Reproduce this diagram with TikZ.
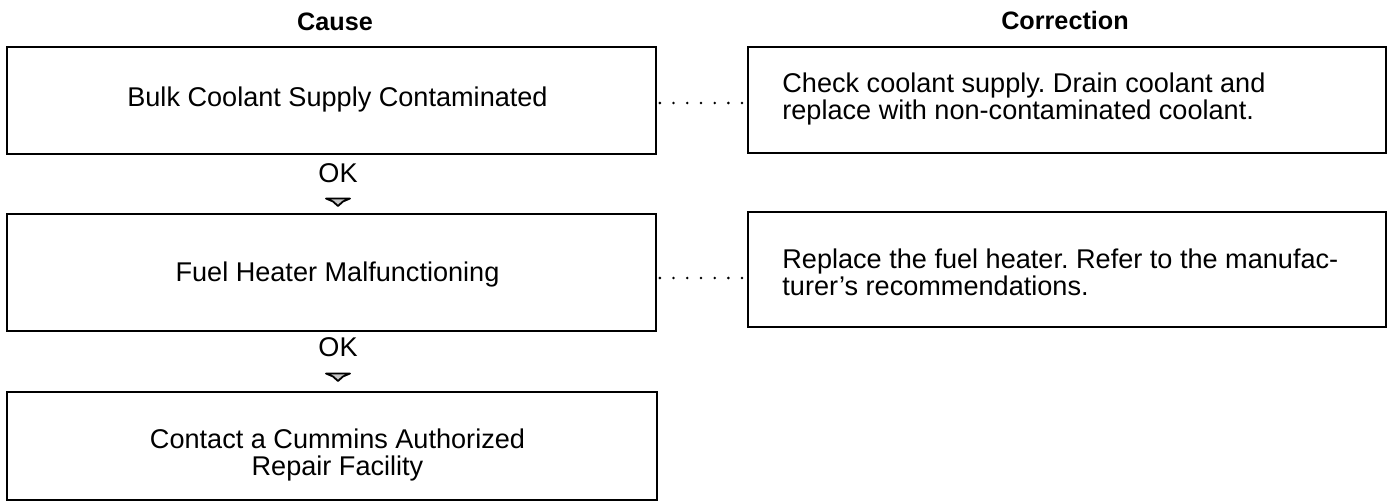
\documentclass[tikz,border=0pt]{standalone}
\usepackage{fontspec}
\setmainfont{Liberation Sans}
\frenchspacing
\begin{document}
\begin{tikzpicture}[x=0.5pt,y=-0.5pt,
  box/.style={draw, line width=0.85pt, inner sep=0pt},
  body/.style={font=\fontsize{13.55pt}{13.25pt}\selectfont, inner sep=0pt},
  title/.style={font=\fontsize{12.6pt}{14pt}\selectfont\bfseries, inner sep=0pt, anchor=base},
  dotline/.style={line width=1.4pt, line cap=round, dash pattern=on 0pt off 6.85pt},
  okarrow/.pic={\filldraw[fill=gray!45, draw=black, line width=0.9pt, line join=round]
     (-12,-2.5)--(12,-2.5)--(5,0.5)--(0,5)--(-5,0.5)--cycle;}]
\useasboundingbox (0,0) rectangle (1388,503);

% titles
\node[title] (tcause) at (335,31) {Cause};
\node[title] (tcorr) at (1065,30) {Correction};

% cause boxes
\node[box, minimum width=324.5pt, minimum height=53.5pt] (c1) at (331.5,100.5) {};
\node[box, minimum width=324.5pt, minimum height=58.5pt] (c2) at (331.5,272.5) {};
\node[box, minimum width=325pt, minimum height=54pt] (c3) at (332,446) {};

% correction boxes
\node[box, minimum width=319pt, minimum height=53pt] (r1) at (1067,100) {};
\node[box, minimum width=319pt, minimum height=57.5pt] (r2) at (1067,269.5) {};

% texts
\node[body, anchor=base] (c1t) at (337.5,106) {Bulk Coolant Supply Contaminated};
\node[body, anchor=base] (c2t) at (337.5,281) {Fuel Heater Malfunctioning};
\node[body, anchor=base] (c3t) at (337.5,448)
  {\begin{tabular}[t]{@{}c@{}}Contact a Cummins Authorized\\Repair Facility\end{tabular}};
\node[body, anchor=base west] (r1t) at (782,92)
  {\begin{tabular}[t]{@{}l@{}}Check coolant supply. Drain coolant and\\replace with non-contaminated coolant.\end{tabular}};
\node[body, anchor=base west] (r2t) at (782,268)
  {\begin{tabular}[t]{@{}l@{}}Replace the fuel heater. Refer to the manufac-\\turer’s recommendations.\end{tabular}};

% OK labels and arrows
\node[body, anchor=base] (ok1) at (338,182) {OK};
\pic at (338,201) {okarrow};
\node[body, anchor=base] (ok2) at (338,356) {OK};
\pic at (338,376) {okarrow};

% dotted connectors
\coordinate (d1) at (700,103);
\coordinate (d2) at (700,278);
\draw[dotline] ([xshift=1.5pt]c1.east |- d1) -- (r1.west |- d1);
\draw[dotline] ([xshift=1.5pt]c2.east |- d2) -- (r2.west |- d2);
\end{tikzpicture}
\end{document}
